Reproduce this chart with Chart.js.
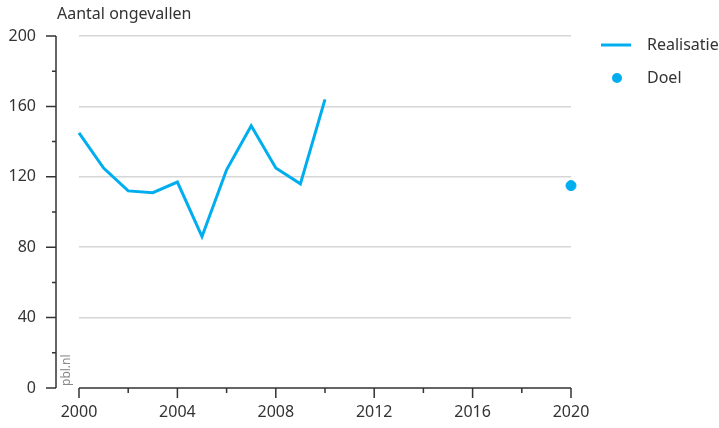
<!DOCTYPE html>
<html>
<head>
<meta charset="utf-8">
<script src="https://cdn.jsdelivr.net/npm/chart.js@4"></script>
<style>
  html, body { margin: 0; padding: 0; background: #fff; }
  canvas { display: block; }
</style>
</head>
<body>
<canvas id="chart" width="719" height="428"></canvas>
<script>
// Verkeersongevallen: realisatie 2000-2010 en doel 2020

const years = [2000, 2001, 2002, 2003, 2004, 2005, 2006, 2007, 2008, 2009, 2010];
const realisatie = [145, 125, 112, 111, 117, 86, 124, 149, 125, 116, 164];
const doelYears = [2020];
const doel = [115];
const yTicks = [0, 40, 80, 120, 160, 200];
const xLabelYears = [2000, 2004, 2008, 2012, 2016, 2020];

const BLUE = '#00aeef';
const INK = '#333333';
const GRID = '#d6d6d6';
const FONT = '"Noto Sans", "Open Sans", sans-serif';
const SIZE = 16;

// Axis lines, tick marks, title, legend and source label
const decorations = {
    id: 'decorations',
    afterDraw(chart) {
        const { ctx, chartArea, scales } = chart;
        const x = scales.x, y = scales.y;
        const axisX = chartArea.left - 23;
        ctx.save();
        ctx.strokeStyle = INK;
        ctx.lineWidth = 1.5;

        // y axis with major and minor ticks
        ctx.beginPath();
        ctx.moveTo(axisX, y.getPixelForValue(200));
        ctx.lineTo(axisX, y.getPixelForValue(0));
        for (let v = 0; v <= 200; v += 20) {
            const py = y.getPixelForValue(v);
            ctx.moveTo(axisX, py);
            ctx.lineTo(axisX - (v % 40 === 0 ? 10 : 4), py);
        }
        ctx.stroke();

        // x axis with major and minor ticks
        const base = y.getPixelForValue(0);
        ctx.beginPath();
        ctx.moveTo(x.getPixelForValue(2000), base);
        ctx.lineTo(x.getPixelForValue(2020), base);
        for (let yr = 2000; yr <= 2020; yr += 2) {
            const px = x.getPixelForValue(yr);
            ctx.moveTo(px, base);
            ctx.lineTo(px, base + (yr % 4 === 0 ? 10 : 5));
        }
        ctx.stroke();

        // title
        ctx.fillStyle = INK;
        ctx.font = SIZE + 'px ' + FONT;
        ctx.textAlign = 'left';
        ctx.textBaseline = 'middle';
        ctx.fillText('Aantal ongevallen', 57, 14);

        // legend
        const lx = 601, ty = 45, dy = 78;
        ctx.strokeStyle = BLUE;
        ctx.lineWidth = 3;
        ctx.beginPath();
        ctx.moveTo(lx, ty);
        ctx.lineTo(lx + 30, ty);
        ctx.stroke();
        ctx.fillStyle = BLUE;
        ctx.beginPath();
        ctx.arc(lx + 16, dy, 5, 0, Math.PI * 2);
        ctx.fill();
        ctx.fillStyle = INK;
        ctx.fillText('Realisatie', 647, ty);
        ctx.fillText('Doel', 647, dy);

        // source
        ctx.translate(axisX + 11, base - 2);
        ctx.rotate(-Math.PI / 2);
        ctx.fillStyle = '#8a8a8a';
        ctx.font = '12px ' + FONT;
        ctx.textAlign = 'left';
        ctx.fillText('pbl.nl', 0, 0);
        ctx.restore();
    }
};

new Chart(document.getElementById('chart'), {
    type: 'line',
    data: {
        datasets: [
            {
                label: 'Realisatie',
                data: years.map((yr, i) => ({ x: yr, y: realisatie[i] })),
                borderColor: BLUE,
                borderWidth: 3,
                pointRadius: 0,
                tension: 0,
                clip: false
            },
            {
                label: 'Doel',
                data: doelYears.map((yr, i) => ({ x: yr, y: doel[i] })),
                showLine: false,
                backgroundColor: BLUE,
                borderColor: BLUE,
                pointRadius: 5,
                clip: false
            }
        ]
    },
    plugins: [decorations],
    options: {
        responsive: false,
        animation: false,
        layout: { autoPadding: false, padding: { top: 36, right: 148, left: 0, bottom: 0 } },
        plugins: {
            legend: { display: false },
            tooltip: { enabled: false }
        },
        scales: {
            x: {
                type: 'linear',
                min: 2000,
                max: 2020,
                afterFit: (s) => {
                    s.height = 40;
                    s.paddingLeft = 0;
                    s.paddingRight = 0;
                },
                afterBuildTicks: (s) => { s.ticks = xLabelYears.map(v => ({ value: v })); },
                grid: { display: false, drawTicks: false },
                border: { display: false },
                ticks: {
                    color: INK,
                    font: { family: FONT, size: SIZE },
                    padding: 15,
                    maxRotation: 0,
                    callback: (v) => String(v)
                }
            },
            y: {
                min: 0,
                max: 200,
                afterFit: (s) => {
                    s.width = 79;
                    s.paddingTop = 0;
                    s.paddingBottom = 0;
                },
                afterBuildTicks: (s) => { s.ticks = yTicks.map(v => ({ value: v })); },
                grid: {
                    color: (c) => c.tick && c.tick.value === 0 ? 'rgba(0,0,0,0)' : GRID,
                    lineWidth: 1.5,
                    drawTicks: false
                },
                border: { display: false },
                ticks: {
                    color: INK,
                    font: { family: FONT, size: SIZE },
                    padding: 43
                }
            }
        }
    }
});
</script>
</body>
</html>
